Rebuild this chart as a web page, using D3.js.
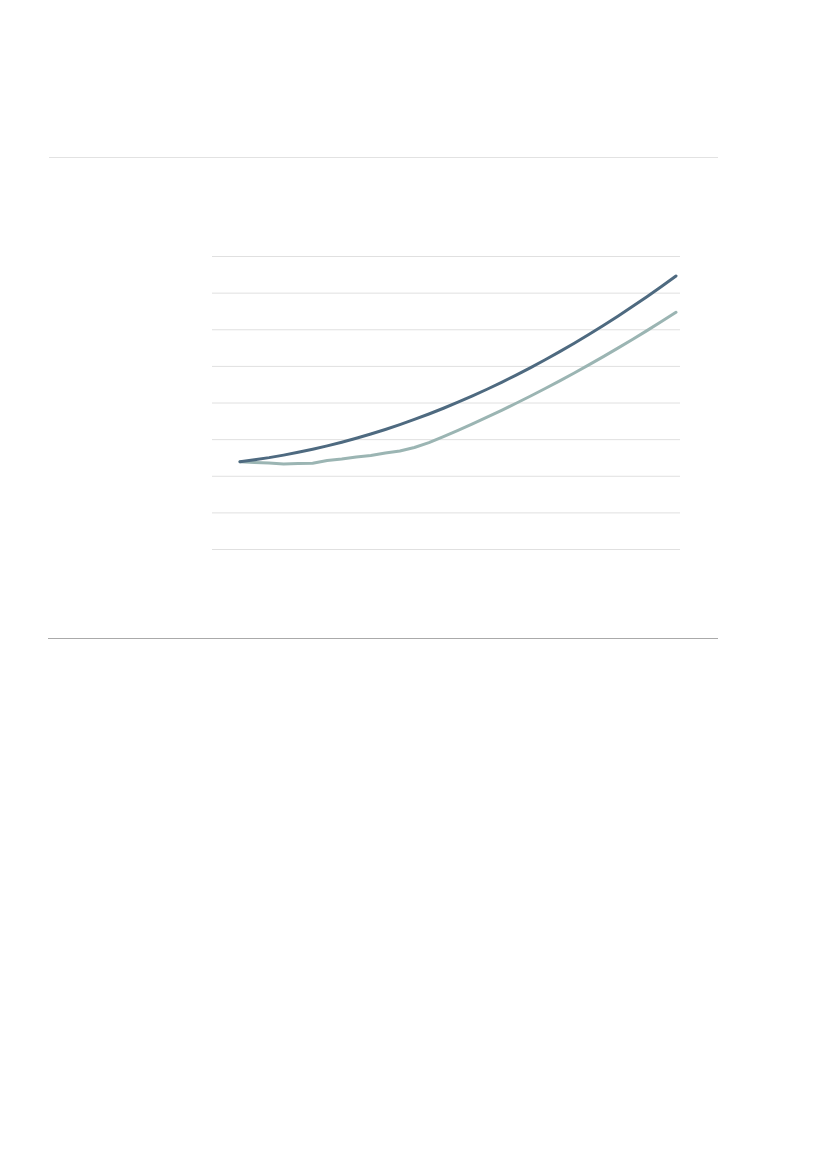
<!DOCTYPE html>
<html>
<head>
<meta charset="utf-8">
<script src="https://cdn.jsdelivr.net/npm/d3@7"></script>
<style>
  body { margin: 0; background: #fff; }
  svg { display: block; }
</style>
</head>
<body>
<div id="chart"></div>
<script>
// Data (31 steps along x).
const steps = d3.range(0, 31);
const seriesDark = [2.384, 2.436, 2.495, 2.563, 2.639, 2.723, 2.815, 2.915, 3.023, 3.140,
	3.264, 3.397, 3.537, 3.686, 3.843, 4.008, 4.181, 4.362, 4.551, 4.748,
	4.954, 5.167, 5.389, 5.619, 5.857, 6.103, 6.357, 6.619, 6.889, 7.167, 7.454];
const seriesLight = [2.384, 2.362, 2.348, 2.321, 2.334, 2.340, 2.416, 2.457, 2.512, 2.553,
	2.621, 2.676, 2.771, 2.903, 3.069, 3.240, 3.416, 3.599, 3.786, 3.979,
	4.178, 4.382, 4.591, 4.807, 5.026, 5.252, 5.484, 5.720, 5.962, 6.211, 6.463];
const yTicks = [0, 1, 2, 3, 4, 5, 6, 7, 8];

// Page and plot dimensions.
const W = 827, H = 1170;
const plot = { left: 212, right: 680, top: 256, bottom: 549 };

let svg = d3.select("#chart").append("svg")
	.attr("width", W)
	.attr("height", H);

// Frame rules above and below the chart.
svg.append("line")
	.attr("x1", 49).attr("x2", 718)
	.attr("y1", 157.5).attr("y2", 157.5)
	.attr("stroke", "#e2e2e2").attr("stroke-width", 1);
svg.append("line")
	.attr("x1", 48).attr("x2", 718)
	.attr("y1", 638.5).attr("y2", 638.5)
	.attr("stroke", "#aaaaaa").attr("stroke-width", 1);

// Scales
let x = d3.scaleLinear()
	.domain([0, 30])
	.range([240, 676]);

let y = d3.scaleLinear()
	.domain([0, 8])
	.range([plot.bottom, plot.top]);

// Gridlines, no labels.
let yAxis = d3.axisLeft(y)
	.tickValues(yTicks)
	.tickSize(-(plot.right - plot.left))
	.tickFormat("");
let grid = svg.append("g")
	.attr("transform", "translate(" + plot.left + ",0)")
	.call(yAxis);
grid.select(".domain").remove();
grid.selectAll(".tick line")
	.attr("stroke", "#e0e0e0")
	.attr("stroke-width", 1);

// Lines
const line = d3.line()
	.x(d => x(d[0]))
	.y(d => y(d[1]));

svg.append("path")
	.datum(steps.map(i => [i, seriesLight[i]]))
	.attr("fill", "none")
	.attr("stroke", "#9bb5b3")
	.attr("stroke-width", 3)
	.attr("stroke-linejoin", "round")
	.attr("stroke-linecap", "round")
	.attr("d", line);

svg.append("path")
	.datum(steps.map(i => [i, seriesDark[i]]))
	.attr("fill", "none")
	.attr("stroke", "#4e6a80")
	.attr("stroke-width", 3)
	.attr("stroke-linejoin", "round")
	.attr("stroke-linecap", "round")
	.attr("d", line);
</script>
</body>
</html>
